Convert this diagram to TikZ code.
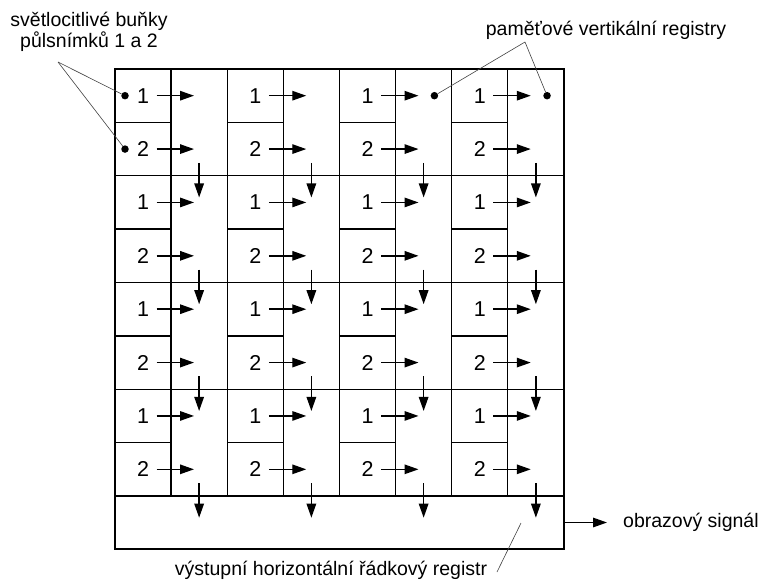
\documentclass[tikz,border=0pt]{standalone}
\usepackage{fontspec}
\setmainfont{Liberation Sans}
\usetikzlibrary{arrows.meta,calc}
\begin{document}
\begin{tikzpicture}[x=1pt,y=-1pt,
  box/.style={draw,line width=1.4pt,inner sep=0pt,font=\fontsize{21.5}{21.5}\selectfont},
  arr/.style={-{Triangle[length=14pt,width=9.5pt]},line width=1.4pt},
  lead/.style={line width=0.6pt,draw=black!75},
  dot/.style={circle,fill,inner sep=0pt,minimum size=7.5pt},
  lbl/.style={font=\fontsize{19.5}{21}\selectfont,inner sep=0pt,align=center}]
\useasboundingbox (0,0) rectangle (762,584);
\foreach \c in {0,...,3}{
  \pgfmathsetmacro\L{115+112.25*\c}
  \foreach \r in {0,...,7}{
    \pgfmathtruncatemacro\n{mod(\r,2)+1}
    \node[box,minimum width=56pt,minimum height=53.375pt] (c\c r\r) at (\L+28, 69+53.375*\r+26.69) {\n};
    \draw[arr] ([xshift=13.5pt]c\c r\r.center) -- ([xshift=51pt]c\c r\r.center);
  }
  \foreach \p in {0,...,3}{
    \node[box,minimum width=56.25pt,minimum height=106.75pt] (g\c p\p) at (\L+84.125, 69+106.75*\p+53.375) {};
    \draw[arr] ([yshift=13.7pt]g\c p\p.south) -- ([yshift=-21pt]g\c p\p.south);
  }
}
\node[box,minimum width=449pt,minimum height=53pt] (hreg) at (339.5,522.5) {};
% dots
\node[dot] (d1) at ([xshift=10.7pt]c0r0.west) {};
\node[dot] (d2) at ([xshift=10.7pt]c0r1.west) {};
\node[dot] (d3) at ($(g2p0.west |- c2r0.center)+(39.6,0)$) {};
\node[dot] (d4) at ($(g3p0.west |- c3r0.center)+(40,0)$) {};
% labels
\node[lbl] (l1) at (89,32) {světlocitlivé buňky\\půlsnímků 1 a 2};
\coordinate (s1) at (58,62);
\draw[lead] (s1) -- (d1);
\draw[lead] (s1) -- (d2);
\node[lbl] (l2) at (606,30) {paměťové vertikální registry};
\coordinate (s2) at (525,42);
\draw[lead] (s2) -- (d3);
\draw[lead] (s2) -- (d4);
\node[lbl] (l3) at (331,570) {výstupní horizontální řádkový registr};
\coordinate (s3a) at (497,572);
\coordinate (s3b) at (521,523);
\draw[lead] (s3a) -- (s3b);
\coordinate (o) at (607,522.5);
\draw[arr] (hreg.east) -- (o);
\node[lbl,anchor=west] (l4) at (623,522.5) {obrazový signál};
\end{tikzpicture}
\end{document}
